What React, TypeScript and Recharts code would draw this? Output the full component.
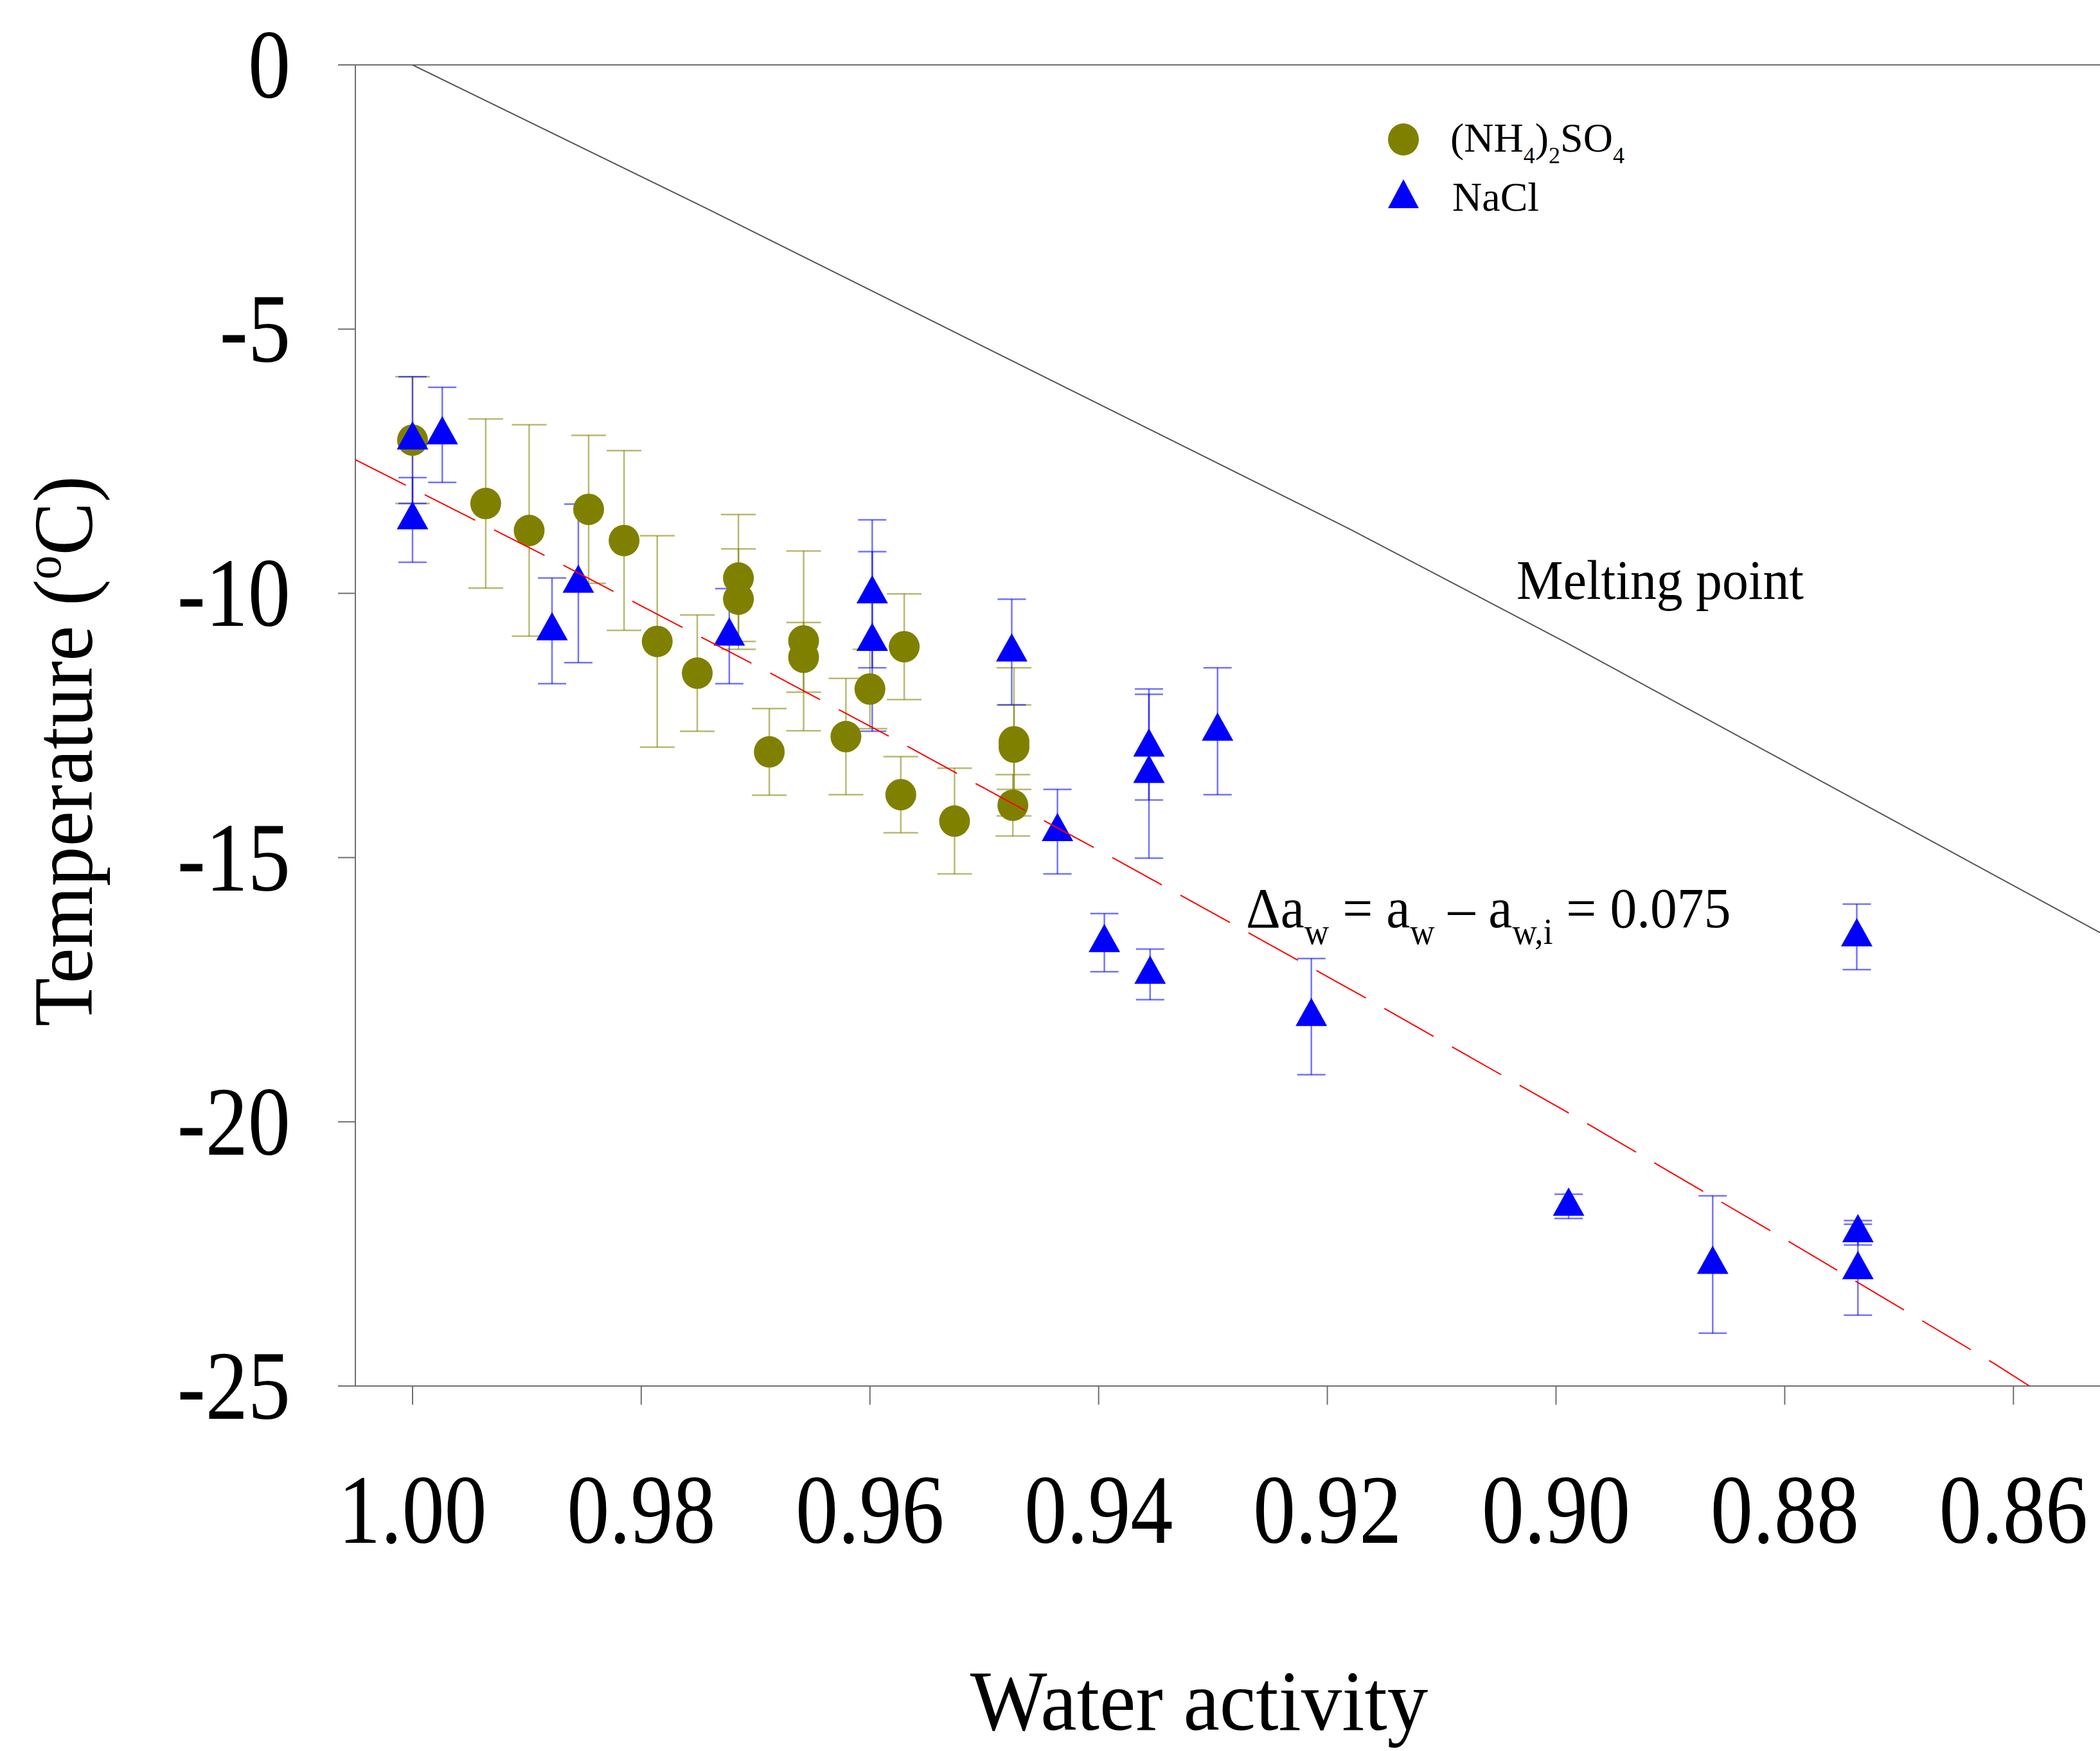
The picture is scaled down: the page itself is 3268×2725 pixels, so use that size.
import React from 'react';
import { ScatterChart, Scatter, XAxis, YAxis, ErrorBar, ReferenceLine, Label } from 'recharts';

const W = 3268;
const H = 2725;
const FONT = '"Liberation Serif", "Times New Roman", Times, serif';

// (NH4)2SO4 series
const amsAw = [1.0, 0.9936, 0.9898, 0.9846, 0.9815, 0.9786, 0.9751, 0.9715, 0.9715, 0.9688, 0.9658, 0.9658, 0.9621, 0.96, 0.957, 0.9573, 0.9526, 0.9474, 0.9474, 0.9475];
const amsT = [-7.1, -8.3, -8.81, -8.41, -9.0, -10.91, -11.51, -9.71, -10.11, -13.0, -10.9, -11.21, -12.71, -11.81, -11.01, -13.81, -14.31, -12.81, -12.91, -14.01];
const amsErr = [1.2, 1.6, 2.0, 1.4, 1.7, 2.0, 1.1, 1.2, 0.95, 0.82, 1.7, 0.66, 1.1, 0.75, 1.0, 0.72, 1.0, 1.4, 0.8, 0.58];

// NaCl series
const naclAw = [1.0, 1.0, 0.9974, 0.9878, 0.9855, 0.9723, 0.9598, 0.9598, 0.9476, 0.9436, 0.9395, 0.9356, 0.9356, 0.9355, 0.9296, 0.9214, 0.8989, 0.8863, 0.8737, 0.8736, 0.8736];
const naclT = [-7.1, -8.61, -7.0, -10.71, -9.81, -10.81, -10.01, -10.91, -11.11, -14.51, -16.61, -12.91, -13.41, -17.21, -12.61, -18.01, -21.6, -22.7, -16.5, -22.1, -22.8];
const naclErr = [1.2, 0.8, 0.9, 1.0, 1.5, 0.9, 1.4, 1.7, 1.0, 0.8, 0.55, 1.0, 1.6, 0.48, 1.2, 1.1, 0.23, 1.3, 0.62, 0.23, 0.86];

// Ice melting point curve
const meltAw = [1.0, 0.97426, 0.91807, 0.89913, 0.85243];
const meltT = [0, -2.72, -8.78, -10.93, -16.42];

// Shifted curve (delta aw = 0.075)
const homAw = [1.005, 0.9882, 0.97617, 0.9701, 0.95802, 0.946, 0.93998, 0.92792, 0.91587, 0.89778, 0.87968, 0.86165, 0.8586];
const homT = [-7.47, -9.31, -10.67, -11.35, -12.74, -14.16, -14.86, -16.3, -17.75, -19.97, -22.26, -24.58, -25.0];

const xTicks = [1.0, 0.98, 0.96, 0.94, 0.92, 0.9, 0.88, 0.86];
const yTicks = [0, -5, -10, -15, -20, -25];
const xDomain: [number, number] = [0.85243, 1.005];
const yDomain: [number, number] = [-25, 0];

const amsData = amsAw.map((aw, i) => ({ aw, t: amsT[i], err: amsErr[i] }));
const naclData = naclAw.map((aw, i) => ({ aw, t: naclT[i], err: naclErr[i] }));
const meltData = meltAw.map((aw, i) => ({ aw, t: meltT[i] }));
const homData = homAw.map((aw, i) => ({ aw, t: homT[i] }));

const AXIS = '#707070';

const XTick = (props: any) => {
  const { x, y, payload } = props;
  return (
    <text
      transform={`translate(${x},${y}) scale(0.87,1)`}
      textAnchor="middle"
      fontFamily={FONT}
      fontSize={152}
      fill="#000"
    >
      {Number(payload.value).toFixed(2)}
    </text>
  );
};

const YTick = (props: any) => {
  const { x, y, payload } = props;
  return (
    <text
      transform={`translate(${x},${y}) scale(0.87,1)`}
      textAnchor="end"
      dy={51}
      fontFamily={FONT}
      fontSize={152}
      fill="#000"
    >
      {String(payload.value)}
    </text>
  );
};

const XTitle = () => (
  <text transform="translate(1866,2692) scale(0.955,1)" textAnchor="middle" fontFamily={FONT} fontSize={133} fill="#000">
    Water activity
  </text>
);

const YTitle = () => (
  <text transform="translate(143,1169) rotate(-90) scale(0.945,1)" textAnchor="middle" fontFamily={FONT} fontSize={131} fill="#000">
    Temperature (<tspan fontSize={79} dy={-49}>o</tspan>
    <tspan dy={49}>C)</tspan>
  </text>
);

const Circle = (props: any) => {
  const { cx, cy } = props;
  if (cx == null || cy == null) return <g />;
  return <ellipse cx={cx} cy={cy} rx={24} ry={24.5} fill="#808000" />;
};

const Triangle = (props: any) => {
  const { cx, cy } = props;
  if (cx == null || cy == null) return <g />;
  const top = cy - 29.3;
  const bot = cy + 14.7;
  return <path d={`M${cx},${top} L${cx + 24.5},${bot} L${cx - 24.5},${bot} Z`} fill="#0000ff" />;
};

const NoShape = () => <g />;

export default function App() {
  return (
    <div style={{ position: 'absolute', left: 0, top: 0, width: W, height: H, background: '#fff', overflow: 'hidden' }}>
      <ScatterChart width={W} height={H} margin={{ top: 101, right: 0, bottom: 0, left: 0 }}>
        <XAxis
          type="number"
          dataKey="aw"
          domain={xDomain}
          reversed
          allowDataOverflow
          ticks={xTicks}
          interval={0}
          tick={<XTick />}
          tickSize={29}
          tickMargin={215}
          height={568}
          axisLine={{ stroke: AXIS, strokeWidth: 2 }}
          tickLine={{ stroke: AXIS, strokeWidth: 2 }}
        >
          <Label content={XTitle} />
        </XAxis>
        <YAxis
          type="number"
          dataKey="t"
          domain={yDomain}
          allowDataOverflow
          ticks={yTicks}
          interval={0}
          tick={<YTick />}
          tickSize={27}
          tickMargin={74}
          width={553}
          axisLine={{ stroke: AXIS, strokeWidth: 2 }}
          tickLine={{ stroke: AXIS, strokeWidth: 2 }}
        >
          <Label content={YTitle} />
        </YAxis>
        <ReferenceLine y={0} stroke={AXIS} strokeWidth={2} />
        <Scatter
          name="Melting point"
          data={meltData}
          line={{ stroke: '#555555', strokeWidth: 2 }}
          shape={NoShape}
          isAnimationActive={false}
        />
        <Scatter name="(NH4)2SO4" data={amsData} shape={Circle} isAnimationActive={false}>
          <ErrorBar
            dataKey="err"
            direction="y"
            width={27}
            stroke="#808000"
            strokeOpacity={0.55}
            strokeWidth={2.5}
            isAnimationActive={false}
          />
        </Scatter>
        <Scatter name="NaCl" data={naclData} shape={Triangle} isAnimationActive={false}>
          <ErrorBar
            dataKey="err"
            direction="y"
            width={22}
            stroke="#0000ff"
            strokeOpacity={0.55}
            strokeWidth={2.5}
            isAnimationActive={false}
          />
        </Scatter>
        <Scatter
          name="delta aw"
          data={homData}
          line={{ stroke: '#ff0000', strokeWidth: 2, strokeDasharray: '88 33' }}
          shape={NoShape}
          isAnimationActive={false}
        />
      </ScatterChart>
      <svg
        width={W}
        height={H}
        style={{ position: 'absolute', left: 0, top: 0, pointerEvents: 'none' }}
      >
        <ellipse cx={2184} cy={217} rx={24} ry={25} fill="#808000" />
        <path d="M2184,279 L2208,324 L2160,324 Z" fill="#0000ff" />
        <text x={2257} y={236} fontFamily={FONT} fontSize={64} fill="#000">
          (NH<tspan fontSize={36} dy={18}>4</tspan>
          <tspan dy={-18}>)</tspan>
          <tspan fontSize={36} dy={18}>2</tspan>
          <tspan dy={-18}>SO</tspan>
          <tspan fontSize={36} dy={18}>4</tspan>
        </text>
        <text x={2260} y={328} fontFamily={FONT} fontSize={64} fill="#000">
          NaCl
        </text>
        <text transform="translate(2360,932) scale(0.95,1)" fontFamily={FONT} fontSize={86} fill="#000">
          Melting point
        </text>
        <text transform="translate(1939,1443) scale(0.95,1)" fontFamily={FONT} fontSize={88} fill="#000">
          Δa<tspan fontSize={56} dy={26}>w</tspan>
          <tspan dy={-26}> = a</tspan>
          <tspan fontSize={56} dy={26}>w</tspan>
          <tspan dy={-26}> – a</tspan>
          <tspan fontSize={56} dy={26}>w,i</tspan>
          <tspan dy={-26}> = 0.075</tspan>
        </text>
      </svg>
    </div>
  );
}
